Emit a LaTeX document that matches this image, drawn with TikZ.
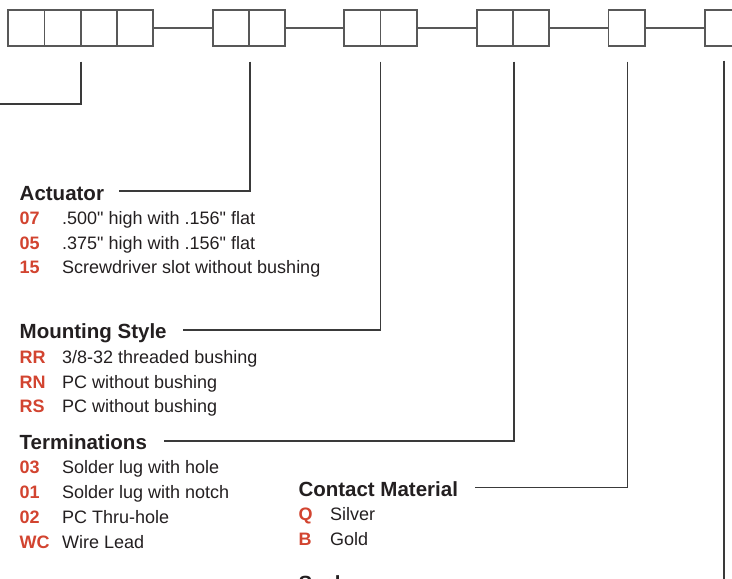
\documentclass[tikz,border=0pt]{standalone}
\usepackage{fontspec}
\setmainfont{Liberation Sans}[Ligatures=TeXOff]
\usepackage{xcolor}
\usetikzlibrary{positioning,calc}
\definecolor{ink}{HTML}{231F20}
\definecolor{boxgray}{HTML}{585858}
\definecolor{leadgray}{HTML}{3A3A3A}
\definecolor{codered}{HTML}{D24430}
% code column of a row; the optional width is the column width
\newcommand{\cd}[2][42.5pt]{\makebox[#1][l]{\bfseries\color{codered}#2}}
\tikzset{
  every node/.style={text=ink},
  cell/.style={draw=boxgray, line width=1.7pt, minimum width=36.2pt, minimum height=35.7pt, inner sep=0pt},
  link/.style={draw=boxgray, line width=1.7pt},
  lead/.style={draw=leadgray, line width=1.5pt},
  hdr/.style={anchor=base west, inner sep=0pt, font=\fontsize{20.5}{24}\selectfont\bfseries},
  opt/.style={anchor=base west, inner sep=0pt, font=\fontsize{18}{21}\selectfont},
}

\begin{document}
\begin{tikzpicture}[x=1pt,y=1pt]
  \useasboundingbox (0,0) rectangle (732,-579);
  \clip (0,0) rectangle (732,-579);

  % ---- part number boxes ----
  \node[cell] (c11) at (26.4,-28)  {};
  \node[cell] (c12) at (62.6,-28)  {};
  \node[cell] (c13) at (98.8,-28)  {};
  \node[cell] (c14) at (135.0,-28) {};
  \node[cell] (c21) at (230.8,-28) {};
  \node[cell] (c22) at (267.0,-28) {};
  \node[cell] (c31) at (362.4,-28) {};
  \node[cell] (c32) at (398.6,-28) {};
  \node[cell] (c41) at (494.8,-28) {};
  \node[cell] (c42) at (531.0,-28) {};
  \node[cell] (c51) at (626.6,-28) {};
  \node[cell] (c61) at (723.1,-28) {};

  \draw[link] (c14) -- (c21);
  \draw[link] (c22) -- (c31);
  \draw[link] (c32) -- (c41);
  \draw[link] (c42) -- (c51);
  \draw[link] (c51) -- (c61);

  % ---- actuator ----
  \node[hdr] (hact) at (19.5,-200) {Actuator};
  \node[opt] (act07) at (19.5,-224.3) {\cd{07}.500" high with .156" flat};
  \node[opt] (act05) at (19.5,-249)   {\cd{05}.375" high with .156" flat};
  \node[opt] (act15) at (19.5,-273.8) {\cd{15}Screwdriver slot without bushing};

  % ---- mounting style ----
  \node[hdr] (hmnt) at (19.5,-338.3) {Mounting Style};
  \node[opt] (mntrr) at (19.5,-363.3) {\cd{RR}3/8-32 threaded bushing};
  \node[opt] (mntrn) at (19.5,-388.2) {\cd{RN}PC without bushing};
  \node[opt] (mntrs) at (19.5,-412.7) {\cd{RS}PC without bushing};

  % ---- terminations ----
  \node[hdr] (hterm) at (19.5,-449.3) {Terminations};
  \node[opt] (term03) at (19.5,-473.5) {\cd{03}Solder lug with hole};
  \node[opt] (term01) at (19.5,-498.5) {\cd{01}Solder lug with notch};
  \node[opt] (term02) at (19.5,-523.5) {\cd{02}PC Thru-hole};
  \node[opt] (termwc) at (19.5,-548.5) {\cd{WC}Wire Lead};

  % ---- contact material ----
  \node[hdr] (hcon) at (298.3,-496.7) {Contact Material};
  \node[opt] (conq) at (298.3,-520.7) {\cd[31.7pt]{Q}Silver};
  \node[opt] (conb) at (298.3,-545.2) {\cd[31.7pt]{B}Gold};

  % ---- seal (runs off the page, as in the source) ----
  \node[hdr] (hseal) at (298.3,-590) {Seal};

  % ---- leaders ----
  \coordinate (swend) at (-10,-104);
  \draw[lead] ([xshift=-0.6pt,yshift=-15pt]c12.south east) |- (swend);
  \draw[lead] ([yshift=-15pt]c21.south east) |- ([xshift=15pt,yshift=9pt]hact.base east);
  \draw[lead] ([xshift=-1pt,yshift=-15pt]c31.south east) |- ([xshift=16pt,yshift=8.5pt]hmnt.base east);
  \draw[lead] ([yshift=-15pt]c41.south east) |- ([xshift=17pt,yshift=8.5pt]hterm.base east);
  \draw[lead] ([xshift=1pt,yshift=-15pt]c51.south) |- ([xshift=17pt,yshift=9pt]hcon.base east);
  \draw[lead] ([xshift=1pt,yshift=-14pt]c61.south) |- ([xshift=17pt,yshift=9pt]hseal.base east);
\end{tikzpicture}
\end{document}
